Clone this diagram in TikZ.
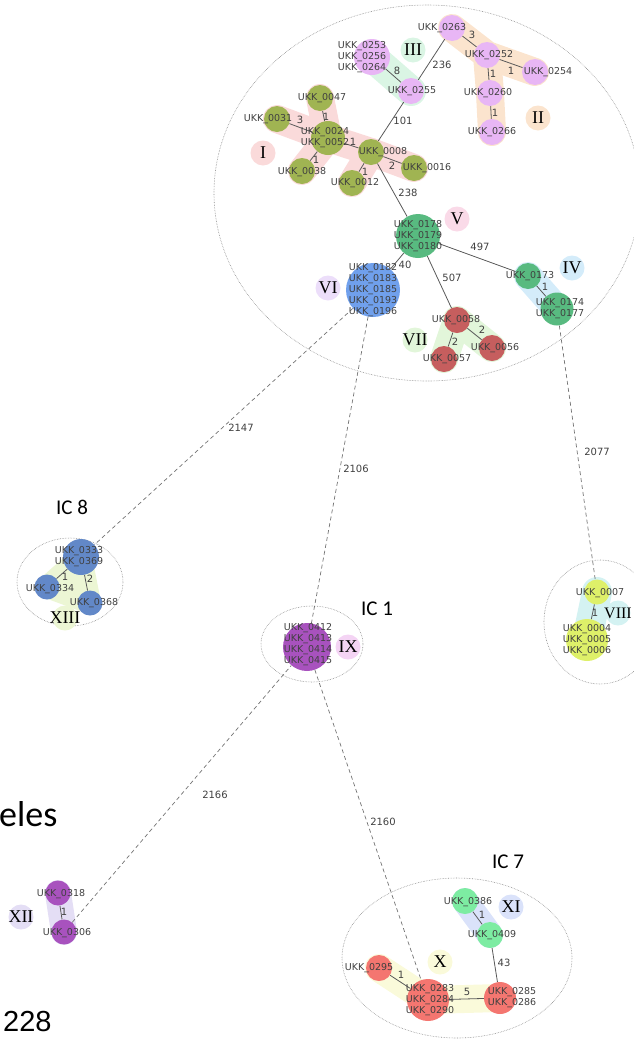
\documentclass[tikz,border=0pt]{standalone}
\usepackage{fontspec}
\newfontfamily\tagfont{DejaVu Sans}
\newfontfamily\romfont{Liberation Serif}
\newfontfamily\icfont{Carlito}
\newfontfamily\bigfont{Liberation Sans}

\pgfdeclarelayer{back}
\pgfsetlayers{back,main}

\definecolor{cOlive}{RGB}{160,180,82}
\definecolor{cPink}{RGB}{232,182,245}
\definecolor{cTeal}{RGB}{88,186,128}
\definecolor{cBlue}{RGB}{112,160,236}
\definecolor{cBrick}{RGB}{198,94,94}
\definecolor{cSteel}{RGB}{98,136,200}
\definecolor{cPurple}{RGB}{168,82,190}
\definecolor{cLime}{RGB}{222,240,105}
\definecolor{cSalmon}{RGB}{244,118,112}
\definecolor{cMint}{RGB}{125,236,162}
\definecolor{hI}{RGB}{250,218,218}
\definecolor{hII}{RGB}{251,228,206}
\definecolor{hIII}{RGB}{218,245,228}
\definecolor{hIV}{RGB}{212,236,250}
\definecolor{hV}{RGB}{250,218,232}
\definecolor{hVI}{RGB}{236,222,250}
\definecolor{hVII}{RGB}{226,246,218}
\definecolor{hVIII}{RGB}{212,242,242}
\definecolor{hIX}{RGB}{244,212,244}
\definecolor{hX}{RGB}{250,250,218}
\definecolor{hXI}{RGB}{218,226,250}
\definecolor{hXII}{RGB}{228,222,245}
\definecolor{hXIII}{RGB}{236,246,212}

\begin{document}
\begin{tikzpicture}[x=1pt,y=-1pt,
    isolate/.style={circle, fill=#1, inner sep=0pt, minimum size=26pt},
    tag/.style={font=\tagfont\fontsize{9.5}{11}\selectfont, text=black!75, align=center, inner sep=0pt},
    weight/.style={font=\tagfont\fontsize{10}{12}\selectfont, text=black!75, inner sep=0pt},
    cc/.style={circle, fill=#1, inner sep=-5pt, minimum size=25pt, font=\romfont\fontsize{18}{18}\selectfont},
    hull/.style={draw=#1, line width=28pt, line cap=round, line join=round},
    link/.style={draw=black!65, line width=0.8pt},
    jump/.style={draw=black!55, line width=0.7pt, dash pattern=on 4pt off 3pt},
    ring/.style={draw=black!45, line width=0.6pt, densely dotted},
    caption/.style={font=\icfont\fontsize{21}{21}\selectfont}]
  \useasboundingbox (0,0) rectangle (634,1039);

  \node[isolate=cPink, label={[tag,xshift=-10]center:UKK\_0263}] (n0263) at (452,28) {};
  \node[isolate=cPink, label={[tag,xshift=2]center:UKK\_0252}] (n0252) at (487,55) {};
  \node[isolate=cPink, label={[tag,xshift=13]center:UKK\_0254}] (n0254) at (535,72) {};
  \node[isolate=cPink, label={[tag,xshift=-2]center:UKK\_0260}] (n0260) at (490,93) {};
  \node[isolate=cPink, label={[tag]center:UKK\_0266}] (n0266) at (492,132) {};
  \node[isolate=cPink, label={[tag,xshift=1]center:UKK\_0255}] (n0255) at (411,91) {};
  \node[isolate=cPink, minimum size=36pt, label={[tag,xshift=-10]center:{UKK\_0253\\UKK\_0256\\UKK\_0264}}] (n0253) at (372,57) {};
  \node[isolate=cOlive, label={[tag,xshift=2]center:UKK\_0047}] (n0047) at (320,98) {};
  \node[isolate=cOlive, label={[tag,xshift=-9]center:UKK\_0031}] (n0031) at (277,119) {};
  \node[isolate=cOlive, minimum size=34pt, label={[tag,xshift=-3]center:{UKK\_0024\\UKK\_0052}}] (n0024) at (328,138) {};
  \node[isolate=cOlive, label={[tag,xshift=12]center:UKK\_0008}] (n0008) at (371,152) {};
  \node[isolate=cOlive, label={[tag,yshift=-1]center:UKK\_0038}] (n0038) at (302,171) {};
  \node[isolate=cOlive, label={[tag,xshift=3]center:UKK\_0012}] (n0012) at (352,183) {};
  \node[isolate=cOlive, label={[tag,xshift=13]center:UKK\_0016}] (n0016) at (414,168) {};
  \node[isolate=cTeal, minimum size=44pt, label={[tag]center:{UKK\_0178\\UKK\_0179\\UKK\_0180}}] (n0178) at (418,236) {};
  \node[isolate=cBlue, minimum size=54pt, label={[tag]center:{UKK\_0182\\UKK\_0183\\UKK\_0185\\UKK\_0193\\UKK\_0196}}] (n0182) at (373,290) {};
  \node[isolate=cBrick, label={[tag,xshift=-1]center:UKK\_0058}] (n0058) at (457,320) {};
  \node[isolate=cBrick, label={[tag,xshift=3]center:UKK\_0057}] (n0057) at (444,359) {};
  \node[isolate=cBrick, label={[tag,xshift=3]center:UKK\_0056}] (n0056) at (492,348) {};
  \node[isolate=cTeal, label={[tag,xshift=2]center:UKK\_0173}] (n0173) at (528,276) {};
  \node[isolate=cTeal, minimum size=33pt, label={[tag,xshift=3]center:{UKK\_0174\\UKK\_0177}}] (n0174) at (557,309) {};

  \node[isolate=cSteel, minimum size=36pt, label={[tag,xshift=-2]center:{UKK\_0333\\UKK\_0369}}] (n0333) at (81,557) {};
  \node[isolate=cSteel, minimum size=25pt, label={[tag,xshift=3,yshift=-2]center:UKK\_0334}] (n0334) at (47,587) {};
  \node[isolate=cSteel, minimum size=25pt, label={[tag,xshift=4]center:UKK\_0368}] (n0368) at (90,603) {};

  \node[isolate=cPurple, minimum size=48pt, label={[tag,xshift=1,yshift=2]center:{UKK\_0412\\UKK\_0413\\UKK\_0414\\UKK\_0415}}] (n0412) at (307,647) {};

  \node[isolate=cLime, minimum size=25pt, label={[tag,xshift=3,yshift=-1]center:UKK\_0007}] (n0007) at (597,592) {};
  \node[isolate=cLime, minimum size=42pt, label={[tag]center:{UKK\_0004\\UKK\_0005\\UKK\_0006}}] (n0004) at (587,640) {};

  \node[isolate=cPurple, minimum size=25pt, label={[tag,xshift=3,yshift=-1]center:UKK\_0318}] (n0318) at (58,893) {};
  \node[isolate=cPurple, minimum size=25pt, label={[tag,xshift=3,yshift=-1]center:UKK\_0306}] (n0306) at (64,932) {};

  \node[isolate=cMint, label={[tag,xshift=3,yshift=-1]center:UKK\_0386}] (n0386) at (465,901) {};
  \node[isolate=cMint, label={[tag,xshift=2]center:UKK\_0409}] (n0409) at (490,935) {};
  \node[isolate=cSalmon, label={[tag,xshift=-10]center:UKK\_0295}] (n0295) at (379,968) {};
  \node[isolate=cSalmon, minimum size=42pt, label={[tag,xshift=2]center:{UKK\_0283\\UKK\_0284\\UKK\_0290}}] (n0283) at (428,1000) {};
  \node[isolate=cSalmon, minimum size=32pt, label={[tag,xshift=12]center:{UKK\_0285\\UKK\_0286}}] (n0285) at (500,998) {};

  \begin{pgfonlayer}{back}
    \draw[ring] (427,193) ellipse [x radius=213, y radius=188];
    \draw[ring] (70,582) ellipse [x radius=53, y radius=44];
    \draw[ring] (312,644) ellipse [x radius=51, y radius=38];
    \draw[ring] (600,622) ellipse [x radius=56, y radius=62];
    \draw[ring] (457,958) ellipse [x radius=115, y radius=80];

    \draw[hull=hII] (n0263.center) -- (n0252.center) -- (n0254.center);
    \draw[hull=hII] (n0252.center) -- (n0260.center) -- (n0266.center);
    \draw[hull=hIII, line width=30pt] (n0253.center) -- (n0255.center);
    \draw[hull=hI] (n0047.center) -- (n0024.center) -- (n0038.center);
    \draw[hull=hI] (n0031.center) -- (n0024.center) -- (n0008.center) -- (n0016.center);
    \draw[hull=hI] (n0008.center) -- (n0012.center);
    \draw[hull=hIV] (n0173.center) -- (n0174.center);
    \draw[hull=hVII] (n0057.center) -- (n0058.center) -- (n0056.center);
    \filldraw[hull=hXIII, fill=hXIII, line width=22pt] (n0333.center) -- (n0334.center) -- (n0368.center) -- cycle;
    \draw[hull=hVIII, line width=30pt] (n0007.center) -- (n0004.center);
    \draw[hull=hXII, line width=26pt] (n0318.center) -- (n0306.center);
    \draw[hull=hXI, line width=26pt] (n0386.center) -- (n0409.center);
    \draw[hull=hX] (n0295.center) -- (n0283.center) -- (n0285.center);

    \draw[link] (n0263) to (n0252);
    \draw[link] (n0252) to (n0254);
    \draw[link] (n0252) to (n0260);
    \draw[link] (n0260) to (n0266);
    \draw[link] (n0263) to (n0255);
    \draw[link] (n0253) to (n0255);
    \draw[link] (n0255) to (n0008);
    \draw[link] (n0047) to (n0024);
    \draw[link] (n0031) to (n0024);
    \draw[link] (n0038) to (n0024);
    \draw[link] (n0024) to (n0008);
    \draw[link] (n0012) to (n0008);
    \draw[link] (n0016) to (n0008);
    \draw[link] (n0008) to (n0178);
    \draw[link] (n0178) to (n0182);
    \draw[link] (n0178) to (n0058);
    \draw[link] (n0178) to (n0173);
    \draw[link] (n0058) to (n0057);
    \draw[link] (n0058) to (n0056);
    \draw[link] (n0173) to (n0174);
    \draw[link] (n0333) to (n0334);
    \draw[link] (n0333) to (n0368);
    \draw[link] (n0007) to (n0004);
    \draw[link] (n0318) to (n0306);
    \draw[link] (n0386) to (n0409);
    \draw[link] (n0295) to (n0283);
    \draw[link] (n0283) to (n0285);
    \draw[link] (n0409) to (n0285);

    \draw[jump] (n0182) to (n0333);
    \draw[jump] (n0182) to (n0412);
    \draw[jump] (n0174) to (n0007);
    \draw[jump] (n0306) to (n0412);
    \draw[jump] (n0412) to (n0283);
  \end{pgfonlayer}

  \node[weight] (e263x252) at (472,35) {3};
  \node[weight] (e252x254) at (511,71) {1};
  \node[weight] (e252x260) at (493,74) {1};
  \node[weight] (e260x266) at (495,113) {1};
  \node[weight] (e263x255) at (442,65) {236};
  \node[weight] (e253x255) at (397,71) {8};
  \node[weight] (e255x008) at (403,121) {101};
  \node[weight] (e031x024) at (300,120) {3};
  \node[weight] (e047x024) at (326,117) {1};
  \node[weight] (e024x008) at (353,142) {1};
  \node[weight] (e038x024) at (316,160) {1};
  \node[weight] (e012x008) at (365,172) {1};
  \node[weight] (e016x008) at (392,166) {2};
  \node[weight] (e008x178) at (408,193) {238};
  \node[weight] (e178x182) at (405,265) {40};
  \node[weight] (e178x058) at (452,278) {507};
  \node[weight] (e178x173) at (480,247) {497};
  \node[weight] (e058x057) at (455,342) {2};
  \node[weight] (e058x056) at (482,330) {2};
  \node[weight] (e173x174) at (545,287) {1};
  \node[weight] (e333x334) at (65,577) {1};
  \node[weight] (e333x368) at (90,579) {2};
  \node[weight] (e007x004) at (595,613) {1};
  \node[weight] (e318x306) at (64,912) {1};
  \node[weight] (e386x409) at (482,915) {1};
  \node[weight] (e295x283) at (401,975) {1};
  \node[weight] (e283x285) at (467,992) {5};
  \node[weight] (e409x285) at (504,963) {43};
  \node[weight] (d182x333) at (241,428) {2147};
  \node[weight] (d182x412) at (356,469) {2106};
  \node[weight] (d174x007) at (597,452) {2077};
  \node[weight] (d306x412) at (215,795) {2166};
  \node[weight] (d412x283) at (383,822) {2160};

  \node[cc=hI] (rI) at (263,153) {I};
  \node[cc=hII] (rII) at (538,118) {II};
  \node[cc=hIII] (rIII) at (413,50) {III};
  \node[cc=hIV] (rIV) at (572,268) {IV};
  \node[cc=hV] (rV) at (457,219) {V};
  \node[cc=hVI] (rVI) at (328,288) {VI};
  \node[cc=hVII] (rVII) at (415,340) {VII};
  \node[cc=hVIII, font=\romfont\fontsize{16}{16}\selectfont] (rVIII) at (618,613) {VIII};
  \node[cc=hIX] (rIX) at (348,647) {IX};
  \node[cc=hX] (rX) at (440,962) {X};
  \node[cc=hXI] (rXI) at (511,907) {XI};
  \node[cc=hXII] (rXII) at (21,917) {XII};
  \node[cc=hXIII] (rXIII) at (65,618) {XIII};

  \node[caption] (ic8) at (72,507) {IC 8};
  \node[caption] (ic1) at (377,609) {IC 1};
  \node[caption] (ic7) at (508,862) {IC 7};
  \node[font=\icfont\fontsize{36}{36}\selectfont, anchor=base west, inner sep=0pt] (alleles) at (-1,826) {eles};
  \node[font=\bigfont\fontsize{29}{29}\selectfont, anchor=base west, inner sep=0pt] (count) at (3,1031) {228};
\end{tikzpicture}
\end{document}
